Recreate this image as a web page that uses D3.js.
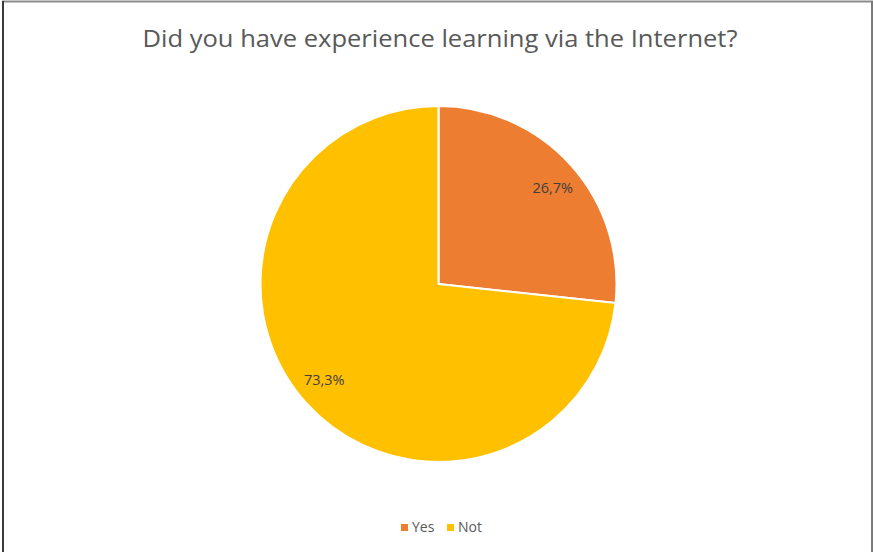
<!DOCTYPE html>
<html>
<head>
<meta charset="utf-8">
<script src="https://cdn.jsdelivr.net/npm/d3@7"></script>
<style>
  html, body { margin: 0; padding: 0; background: #fff; }
  svg { display: block; }
</style>
</head>
<body>
<svg id="chart" width="873" height="552"></svg>
<script>
// Survey answers and their shares (percent)
const categories = ["Yes", "Not"];
const values = [26.7, 73.3];
const valueLabels = ["26,7%", "73,3%"];
const colors = ["#ED7D31", "#FFC000"];

const width = 873, height = 552;
const font = "'Open Sans', sans-serif";
const svg = d3.select("#chart");

// Frame
svg.append("line").attr("x1", 2).attr("x2", 873).attr("y1", 1.5).attr("y2", 1.5)
  .attr("stroke", "#8c8c8c").attr("stroke-width", 2);
svg.append("line").attr("x1", 3).attr("x2", 3).attr("y1", 1).attr("y2", 552)
  .attr("stroke", "#3a3a3a").attr("stroke-width", 2);
svg.append("line").attr("x1", 872).attr("x2", 872).attr("y1", 1).attr("y2", 552)
  .attr("stroke", "#7a7a7a").attr("stroke-width", 2);

// Title
svg.append("text")
  .attr("x", 440).attr("y", 47)
  .attr("text-anchor", "middle")
  .attr("font-family", font)
  .attr("font-size", 24)
  .attr("fill", "#595959")
  .attr("textLength", 595)
  .attr("lengthAdjust", "spacingAndGlyphs")
  .text("Did you have experience learning via the Internet?");

// Pie
const cx = 438.5, cy = 284, r = 178;
const pie = d3.pie().sort(null).value(d => d)(values);
const arc = d3.arc().innerRadius(0).outerRadius(r);
const labelR = 149;
const labelShift = 0.035; // small clockwise nudge of the value labels (radians)

const g = svg.append("g").attr("transform", `translate(${cx},${cy})`);
g.selectAll("path.slice")
  .data(pie)
  .join("path")
  .attr("class", "slice")
  .attr("d", arc)
  .attr("fill", (d, i) => colors[i])
  .attr("stroke", "#fff")
  .attr("stroke-width", 2)
  .attr("stroke-linejoin", "round");

g.selectAll("text.val")
  .data(pie)
  .join("text")
  .attr("class", "val")
  .attr("transform", d => {
    const a = (d.startAngle + d.endAngle) / 2 + labelShift;
    return `translate(${labelR * Math.sin(a)},${-labelR * Math.cos(a)})`;
  })
  .attr("text-anchor", "middle")
  .attr("dy", "0.35em")
  .attr("font-family", font)
  .attr("font-size", 14.5)
  .attr("fill", "#404040")
  .text((d, i) => valueLabels[i]);

// Legend
const legendX = [401, 447];
const lg = svg.append("g");
categories.forEach((c, i) => {
  lg.append("rect")
    .attr("x", legendX[i]).attr("y", 524)
    .attr("width", 7).attr("height", 7)
    .attr("fill", colors[i]);
  lg.append("text")
    .attr("x", legendX[i] + 11).attr("y", 532)
    .attr("font-family", font)
    .attr("font-size", 14)
    .attr("fill", "#595959")
    .text(c);
});
</script>
</body>
</html>
